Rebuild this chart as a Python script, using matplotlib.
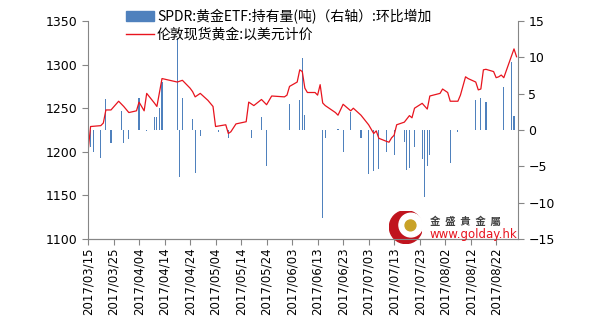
import matplotlib

matplotlib.use("Agg")
import matplotlib.pyplot as plt
import matplotlib.dates as mdates
import matplotlib.patches as mpatches
import pandas as pd

# London spot gold (USD), left axis
line_dates = [
    "2017-03-15", "2017-03-16", "2017-03-20", "2017-03-21", "2017-03-22", "2017-03-24",
    "2017-03-27", "2017-03-29", "2017-03-31", "2017-04-03", "2017-04-04", "2017-04-06",
    "2017-04-07", "2017-04-10", "2017-04-11", "2017-04-13", "2017-04-19", "2017-04-21",
    "2017-04-24", "2017-04-25", "2017-04-26", "2017-04-28", "2017-05-01", "2017-05-03",
    "2017-05-04", "2017-05-08", "2017-05-09", "2017-05-10", "2017-05-12", "2017-05-16",
    "2017-05-17", "2017-05-19", "2017-05-22", "2017-05-24", "2017-05-26", "2017-05-31",
    "2017-06-01", "2017-06-02", "2017-06-05", "2017-06-06", "2017-06-07", "2017-06-08",
    "2017-06-09", "2017-06-12", "2017-06-13", "2017-06-14", "2017-06-15", "2017-06-16",
    "2017-06-20", "2017-06-21", "2017-06-23", "2017-06-26", "2017-06-27", "2017-06-30",
    "2017-07-03", "2017-07-05", "2017-07-06", "2017-07-07", "2017-07-10", "2017-07-11",
    "2017-07-12", "2017-07-13", "2017-07-14", "2017-07-17", "2017-07-19", "2017-07-20",
    "2017-07-21", "2017-07-24", "2017-07-26", "2017-07-27", "2017-07-31", "2017-08-01",
    "2017-08-03", "2017-08-04", "2017-08-07", "2017-08-08", "2017-08-10", "2017-08-11",
    "2017-08-14", "2017-08-15", "2017-08-16", "2017-08-17", "2017-08-18", "2017-08-21",
    "2017-08-22", "2017-08-23", "2017-08-24", "2017-08-25", "2017-08-29", "2017-08-30",
]
gold_price = [
    1200, 1229, 1230, 1233, 1248, 1248,
    1258, 1252, 1245, 1247, 1257, 1247,
    1267, 1256, 1252, 1284, 1280, 1282,
    1273, 1269, 1263, 1267, 1259, 1252,
    1229, 1231, 1221, 1223, 1232, 1234.5,
    1257, 1253, 1260, 1254, 1264, 1263,
    1265, 1275, 1280, 1294, 1292, 1273,
    1268, 1268, 1265, 1277, 1256, 1253,
    1245, 1242, 1254.5, 1247, 1250, 1242,
    1231, 1221, 1224, 1215.5, 1212, 1211,
    1216, 1219, 1231, 1234, 1241.5, 1239,
    1250, 1255.6, 1249, 1264, 1267, 1272,
    1268, 1258, 1258, 1265, 1286, 1284,
    1280, 1271, 1272, 1294, 1294.6, 1292,
    1285, 1286, 1288, 1285, 1318, 1309,
]

# SPDR gold ETF holdings, day-on-day change (tonnes), right axis
bar_dates = [
    "2017-03-15", "2017-03-16", "2017-03-17", "2017-03-20", "2017-03-22", "2017-03-24",
    "2017-03-28", "2017-03-29", "2017-03-31", "2017-04-04", "2017-04-07", "2017-04-10",
    "2017-04-11", "2017-04-12", "2017-04-13", "2017-04-19", "2017-04-20", "2017-04-21",
    "2017-04-25", "2017-04-26", "2017-04-28", "2017-05-05", "2017-05-09", "2017-05-18",
    "2017-05-22", "2017-05-24", "2017-06-02", "2017-06-06", "2017-06-07", "2017-06-08",
    "2017-06-15", "2017-06-16", "2017-06-21", "2017-06-23", "2017-06-26", "2017-06-30",
    "2017-07-03", "2017-07-05", "2017-07-07", "2017-07-10", "2017-07-13", "2017-07-17",
    "2017-07-18", "2017-07-19", "2017-07-21", "2017-07-24", "2017-07-25", "2017-07-26",
    "2017-07-27", "2017-08-04", "2017-08-07", "2017-08-14", "2017-08-16", "2017-08-18",
    "2017-08-25", "2017-08-28", "2017-08-29",
]
etf_change = [
    4.4, -2.3, -3.0, -3.8, 4.2, -1.8,
    2.65, -1.75, -1.3, 4.45, -0.2, 1.8,
    1.8, 3.0, 6.6, 12.7, -6.4, 4.35,
    1.5, -5.9, -0.8, -0.3, -1.15, -1.15,
    1.8, -5.0, 3.6, 4.1, 9.9, 2.1,
    -12.1, -1.15, 0.2, -3.0, 2.45, -1.15,
    -6.1, -5.6, -5.3, -3.0, -3.5, -1.7,
    -5.45, -5.2, -2.3, -4.05, -9.2, -5.0,
    -3.5, -4.6, -0.3, 4.1, 4.45, 3.9,
    5.95, 9.3, 1.9,
]

tick_dates = pd.date_range("2017-03-15", "2017-08-22", freq="10D")

legend_bar = "SPDR:黄金ETF:持有量(吨)（右轴）:环比增加"
legend_line = "伦敦现货黄金:以美元计价"

BAR_COLOR = "#4F81BD"
LINE_COLOR = "#E8141E"
AXIS_COLOR = "#868686"

plt.rcParams["font.family"] = ["DejaVu Sans", "Noto Sans CJK SC"]

fig = plt.figure(figsize=(5.96, 3.23), dpi=100)
ax1 = fig.add_axes([0.1477, 0.26, 0.7215, 0.675])
ax2 = ax1.twinx()

ax2.bar(pd.to_datetime(bar_dates), etf_change, width=0.45, color=BAR_COLOR, linewidth=0)
ax1.plot(pd.to_datetime(line_dates), gold_price, color=LINE_COLOR, linewidth=0.9)

# keep the gold line above the bars
ax1.set_zorder(ax2.get_zorder() + 1)
ax1.patch.set_visible(False)

ax1.set_ylim(1100, 1350)
ax1.set_yticks(range(1100, 1351, 50))
ax2.set_ylim(-15, 15)
ax2.set_yticks(range(-15, 16, 5))
ax1.set_xlim(pd.Timestamp("2017-03-15"), pd.Timestamp("2017-08-30 14:00"))
ax1.set_xticks(tick_dates)
ax1.xaxis.set_major_formatter(mdates.DateFormatter("%Y/%m/%d"))

for ax in (ax1, ax2):
    ax.spines["top"].set_visible(False)
    for side in ("left", "right", "bottom"):
        ax.spines[side].set_color(AXIS_COLOR)
    ax.tick_params(colors=AXIS_COLOR, labelcolor="black", labelsize=9, length=4, width=0.8)
ax1.spines["right"].set_visible(False)
ax2.spines["left"].set_visible(False)
ax1.tick_params(axis="x", rotation=90, labelsize=8.5, pad=2)

handles = [
    mpatches.Patch(color=BAR_COLOR),
    plt.Line2D([], [], color=LINE_COLOR, linewidth=1.0),
]
fig.legend(handles, [legend_bar, legend_line], loc="upper left",
           bbox_to_anchor=(0.197, 1.0), frameon=False,
           prop={"family": ["Noto Sans CJK SC"], "size": 10},
           handlelength=2.0, handleheight=0.75, handletextpad=0.2,
           labelspacing=0.25, borderaxespad=0.25)

# watermark logo
lg = fig.add_axes([0.653, 0.246, 0.056, 0.102])
lg.set_aspect("equal")
lg.axis("off")
lg.set_xlim(-1, 1)
lg.set_ylim(-1, 1)
lg.add_patch(mpatches.Circle((0, 0), 1.0, color="#C0141E"))
lg.add_patch(mpatches.Circle((0.3, 0.12), 0.72, color="white"))
lg.add_patch(mpatches.Circle((0.28, 0.1), 0.33, color="#C9A227"))
fig.text(0.722, 0.313, "金  盛  貴  金  屬", fontsize=7.5, color="#404040",
         family=["Noto Sans CJK TC"], fontweight="bold", va="center")
fig.text(0.720, 0.274, "www.golday.hk", fontsize=8.5, color="#E8141E", va="center")

fig.savefig("out.png", dpi=100)
